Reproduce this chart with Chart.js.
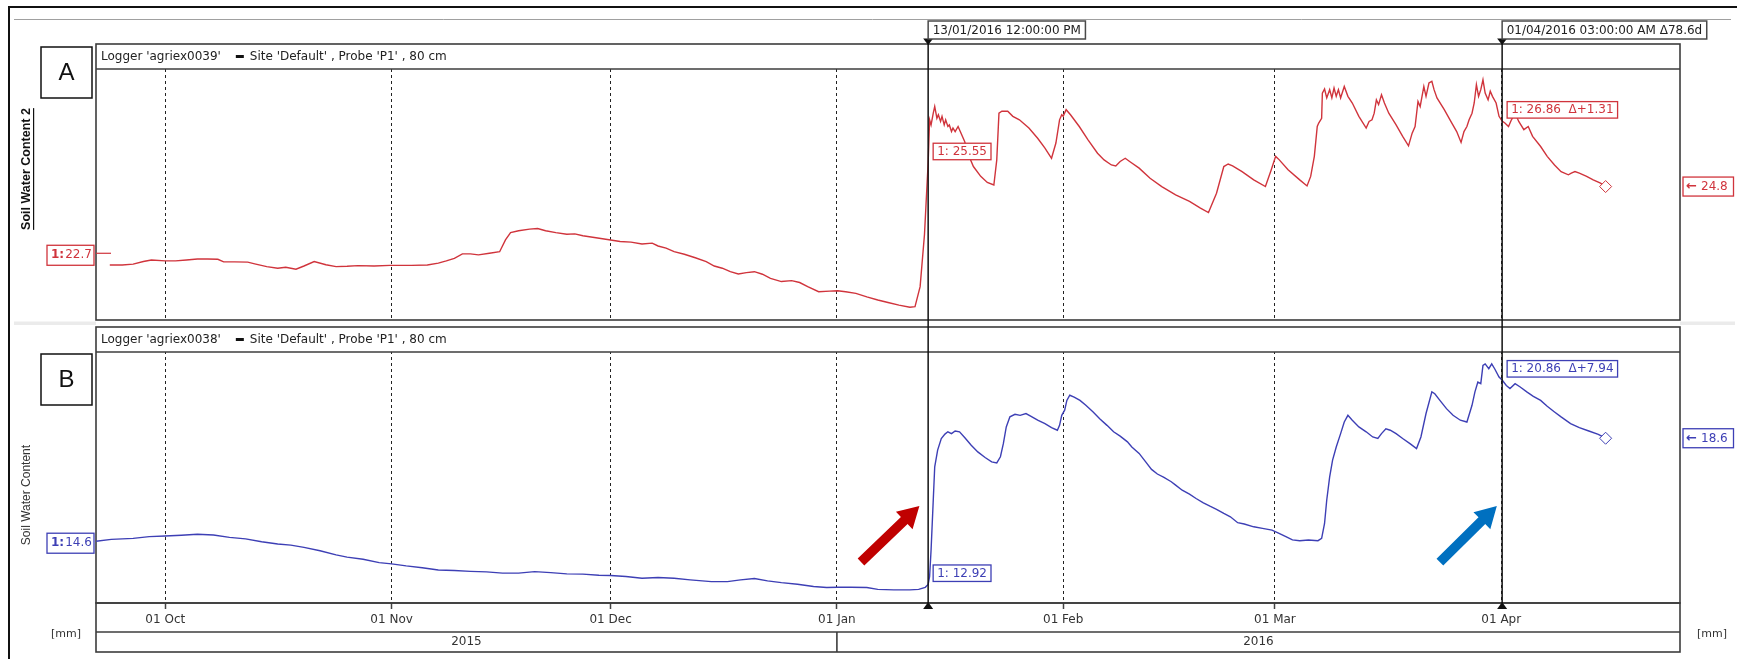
<!DOCTYPE html>
<html>
<head>
<meta charset="utf-8">
<script src="https://cdn.jsdelivr.net/npm/chart.js@4.4.1/dist/chart.umd.min.js"></script>
<style>
  html, body { margin: 0; padding: 0; background: #fff; }
  canvas { display: block; }
</style>
</head>
<body>
<canvas id="swc" width="1737" height="659"></canvas>
<script>
// time axis: days counted from 01 Oct 2015
var monthTicks = [0, 31, 61, 92, 123, 152, 183];
var monthLabels = ['01 Oct', '01 Nov', '01 Dec', '01 Jan', '01 Feb', '01 Mar', '01 Apr'];
var yearLabels = ['2015', '2016'];
var yearStart = 92;

// the two cursors
var cursorDays = [104.5, 183.125];
var cursorText = ['13/01/2016 12:00:00 PM', '01/04/2016 03:00:00 AM'];

var loggers = ['agriex0039', 'agriex0038'];
var siteText = "Site 'Default' , Probe 'P1' , 80 cm";

// agriex0039 - Soil Water Content 2
var swc2Start = 22.7;
var swc2Days = [-7.6, -5.9, -4.4, -3.0, -1.9, 0.0, 1.4, 2.9, 4.4, 5.8, 7.2, 8.0, 9.5, 11.3, 12.4, 13.9, 15.4, 16.5, 17.9, 19.0,
  20.4, 22.0, 23.4, 24.9, 26.4, 28.6, 30.8, 33.7, 35.9, 37.4, 38.5, 39.6, 40.7, 41.8, 42.9, 44.4, 45.8, 46.6, 47.3, 48.4,
  49.9, 51.0, 52.1, 53.5, 55.0, 56.1, 57.2, 59.0, 61.0, 62.3, 63.8, 65.3, 66.7, 67.5, 68.6, 69.7, 71.1, 72.6, 74.1, 75.2,
  76.3, 77.4, 78.5, 79.6, 80.7, 81.8, 82.9, 84.4, 85.8, 86.9, 88.0, 89.5, 91.0, 92.1, 93.2, 94.6, 96.1, 97.6, 99.0, 100.5,
  102.0, 102.7, 103.4, 104.0, 104.5, 104.7, 104.9, 105.2, 105.4, 105.7, 105.9, 106.2, 106.4, 106.7, 106.9, 107.2, 107.4, 107.7, 107.9, 108.2,
  108.6, 108.9, 109.5, 110.1, 110.7, 111.7, 112.6, 113.5, 113.9, 114.2, 114.6, 115.4, 116.1, 117.0, 118.3, 119.5, 120.5, 121.4, 122.0, 122.5,
  122.8, 123.0, 123.4, 124.0, 125.2, 126.4, 127.7, 128.6, 129.6, 130.2, 130.8, 131.5, 132.1, 133.4, 134.9, 136.5, 138.4, 140.3, 141.8, 142.9,
  144.0, 145.0, 145.6, 146.2, 147.5, 149.1, 150.7, 151.5, 152.1, 152.6, 153.8, 155.4, 156.4, 156.9, 157.4, 157.8, 158.0, 158.4, 158.5, 158.8,
  159.1, 159.5, 159.8, 160.1, 160.4, 160.7, 161.0, 161.5, 162.0, 162.6, 163.5, 164.5, 164.9, 165.3, 165.6, 165.9, 166.2, 166.6, 167.0, 167.6,
  168.6, 169.5, 170.3, 170.8, 171.2, 171.6, 171.9, 172.4, 172.7, 173.1, 173.5, 173.8, 174.2, 175.2, 176.1, 176.9, 177.5, 177.9, 178.3, 178.6,
  179.0, 179.3, 179.6, 179.9, 180.2, 180.5, 180.8, 181.2, 181.5, 181.8, 182.3, 182.7, 183.125, 183.5, 184.0, 184.4, 184.9, 185.4, 186.1, 186.7,
  187.3, 188.4, 189.3, 190.3, 191.2, 192.2, 192.6, 193.1, 193.7, 194.7, 195.6, 196.6, 197.3];
var swc2Vals = [22.33, 22.33, 22.36, 22.44, 22.49, 22.46, 22.46, 22.49, 22.52, 22.52, 22.51, 22.43, 22.43, 22.42, 22.36, 22.28, 22.23, 22.26, 22.20, 22.30,
  22.44, 22.34, 22.28, 22.29, 22.31, 22.30, 22.32, 22.32, 22.33, 22.39, 22.46, 22.54, 22.68, 22.68, 22.65, 22.70, 22.75, 23.12, 23.35, 23.41,
  23.46, 23.48, 23.41, 23.35, 23.30, 23.31, 23.25, 23.19, 23.12, 23.07, 23.05, 22.99, 23.02, 22.93, 22.86, 22.75, 22.67, 22.56, 22.44, 22.30,
  22.23, 22.12, 22.05, 22.09, 22.12, 22.04, 21.91, 21.81, 21.84, 21.78, 21.65, 21.49, 21.51, 21.52, 21.49, 21.44, 21.33, 21.23, 21.15, 21.07,
  21.00, 21.02, 21.65, 23.30, 25.55, 26.90, 26.74, 27.11, 27.32, 26.95, 27.06, 26.85, 27.01, 26.74, 26.90, 26.69, 26.74, 26.53, 26.64, 26.53,
  26.69, 26.53, 26.22, 25.75, 25.43, 25.12, 24.93, 24.85, 25.64, 27.11, 27.17, 27.17, 27.01, 26.90, 26.64, 26.32, 26.01, 25.69, 26.17, 26.90,
  27.06, 27.01, 27.22, 27.06, 26.69, 26.27, 25.85, 25.64, 25.48, 25.45, 25.59, 25.69, 25.59, 25.38, 25.06, 24.80, 24.54, 24.33, 24.12, 23.98,
  24.59, 25.43, 25.51, 25.45, 25.27, 25.01, 24.80, 25.33, 25.75, 25.64, 25.33, 25.01, 24.82, 25.12, 25.75, 26.69, 26.80, 26.95, 27.74, 27.87,
  27.59, 27.85, 27.59, 27.90, 27.64, 27.85, 27.59, 27.95, 27.64, 27.43, 27.01, 26.64, 26.85, 26.90, 27.11, 27.53, 27.38, 27.69, 27.43, 27.11,
  26.74, 26.38, 26.08, 26.48, 26.69, 27.48, 27.32, 27.95, 27.64, 28.06, 28.11, 27.85, 27.59, 27.22, 26.85, 26.53, 26.19, 26.53, 26.69, 26.90,
  27.11, 27.43, 28.01, 27.64, 27.85, 28.16, 27.74, 27.53, 27.80, 27.64, 27.43, 27.01, 26.86, 26.80, 26.69, 26.90, 27.11, 26.85, 26.59, 26.69,
  26.38, 26.06, 25.75, 25.48, 25.27, 25.17, 25.22, 25.27, 25.22, 25.12, 25.01, 24.91, 24.80];

// agriex0038 - Soil Water Content
var swcDays = [-9.49, -7.4, -4.4, -2.2, 0.0, 2.2, 4.4, 6.6, 8.8, 11.0, 13.2, 15.4, 17.2, 19.0, 21.2, 23.4, 24.9, 27.1, 29.3, 31.0,
  33.0, 35.2, 37.4, 39.6, 41.8, 44.0, 46.2, 48.4, 50.6, 52.8, 55.0, 57.2, 59.4, 61.0, 63.1, 65.3, 67.5, 69.7, 71.9, 74.8,
  77.0, 78.8, 80.7, 82.5, 84.4, 86.6, 88.8, 90.6, 92.1, 93.9, 96.1, 97.6, 99.8, 102.0, 103.2, 104.1, 104.5, 104.7, 104.9, 105.2,
  105.4, 105.8, 106.3, 106.8, 107.2, 107.7, 108.2, 108.8, 109.5, 110.4, 111.3, 112.3, 113.2, 113.9, 114.4, 114.8, 115.2, 115.7, 116.4, 117.1,
  117.9, 118.6, 119.5, 120.5, 121.4, 122.2, 122.5, 122.8, 123.2, 123.5, 123.9, 124.5, 125.3, 126.1, 127.1, 128.0, 129.0, 129.9, 130.8, 131.8,
  132.4, 133.4, 134.3, 135.1, 135.9, 136.8, 137.8, 138.4, 139.3, 140.3, 141.2, 142.2, 143.1, 144.0, 145.0, 145.9, 146.9, 147.8, 149.1, 150.3,
  151.6, 152.5, 153.5, 154.4, 155.4, 156.6, 157.9, 158.4, 158.8, 159.1, 159.5, 159.9, 160.4, 161.0, 161.5, 162.0, 162.6, 163.5, 164.5, 165.4,
  166.1, 166.6, 167.2, 167.8, 168.6, 169.5, 170.5, 171.4, 172.0, 172.7, 173.5, 173.9, 174.6, 175.5, 176.4, 177.4, 178.3, 179.0, 179.4, 179.8,
  180.2, 180.5, 180.8, 181.3, 181.7, 182.1, 182.7, 183.125, 183.7, 184.2, 184.9, 185.6, 186.5, 187.4, 188.4, 189.3, 190.3, 191.2, 192.5, 193.7,
  195.0, 196.3, 197.3];
var swcVals = [14.60, 14.67, 14.71, 14.78, 14.80, 14.83, 14.87, 14.84, 14.75, 14.69, 14.58, 14.49, 14.45, 14.36, 14.23, 14.07, 13.98, 13.90, 13.77, 13.72,
  13.64, 13.57, 13.48, 13.46, 13.43, 13.41, 13.36, 13.36, 13.42, 13.38, 13.33, 13.32, 13.28, 13.27, 13.23, 13.16, 13.19, 13.16, 13.10, 13.03,
  13.03, 13.10, 13.15, 13.06, 12.99, 12.93, 12.84, 12.80, 12.81, 12.81, 12.80, 12.73, 12.71, 12.71, 12.73, 12.81, 12.92, 13.23, 14.26, 16.20,
  17.49, 18.14, 18.59, 18.76, 18.85, 18.78, 18.88, 18.85, 18.63, 18.33, 18.07, 17.85, 17.68, 17.64, 17.88, 18.39, 19.04, 19.43, 19.53, 19.49,
  19.56, 19.45, 19.30, 19.17, 19.01, 18.91, 19.10, 19.49, 19.69, 20.07, 20.27, 20.20, 20.07, 19.88, 19.62, 19.36, 19.10, 18.85, 18.68, 18.46,
  18.26, 18.01, 17.68, 17.39, 17.21, 17.08, 16.91, 16.78, 16.58, 16.43, 16.26, 16.09, 15.96, 15.84, 15.68, 15.55, 15.32, 15.27, 15.16, 15.10,
  15.03, 14.91, 14.78, 14.65, 14.62, 14.65, 14.62, 14.71, 15.29, 16.20, 17.10, 17.75, 18.26, 18.78, 19.23, 19.49, 19.30, 19.04, 18.85, 18.65,
  18.59, 18.78, 18.97, 18.91, 18.78, 18.59, 18.39, 18.20, 18.65, 19.56, 20.40, 20.33, 20.07, 19.75, 19.49, 19.30, 19.23, 19.88, 20.40, 20.78,
  20.72, 21.43, 21.49, 21.30, 21.49, 21.30, 20.98, 20.86, 20.65, 20.53, 20.72, 20.59, 20.40, 20.23, 20.07, 19.84, 19.62, 19.43, 19.17, 19.01,
  18.88, 18.75, 18.60];

// ---- layout ----
var W = 1737, H = 659;
var left = 96, right = 1680;
var xMin = -9.49, xMax = 207.49;
var panelA = { top: 44, head: 69, bottom: 320, min: 20.6, max: 28.5 };
var panelB = { top: 327, head: 352, bottom: 603, min: 12.2, max: 21.95 };
var axisRow = 632, axisBottom = 652;

var RED = '#d0343c', BLUE = '#3d3fb5';
var FONT = "'DejaVu Sans', sans-serif";

// both y axes span the whole chart area, scaled so each series sits in its own panel
function fullRange(p) {
  var per = (p.max - p.min) / (p.bottom - p.head);
  return { min: p.min - (panelB.bottom - p.bottom) * per, max: p.max + (p.head - panelA.head) * per };
}

function points(days, vals) {
  return days.map(function (d, i) { return { x: d, y: vals[i] }; });
}

function valueAt(days, vals, d) {
  return vals[days.indexOf(d)];
}

function line(c, x1, y1, x2, y2) {
  c.beginPath(); c.moveTo(x1, y1); c.lineTo(x2, y2); c.stroke();
}

function box(c, x, y, w, h, stroke, lw) {
  c.fillStyle = '#fff';
  c.fillRect(x, y, w, h);
  c.strokeStyle = stroke; c.lineWidth = lw || 1.2;
  c.strokeRect(x, y, w, h);
}

function arrow(c, x1, y1, x2, y2, color) {
  var a = Math.atan2(y2 - y1, x2 - x1), len = Math.hypot(x2 - x1, y2 - y1);
  var hl = 21, hw = 12, sw = 4.8;
  c.save();
  c.translate(x1, y1); c.rotate(a);
  c.beginPath();
  c.moveTo(0, -sw); c.lineTo(len - hl, -sw); c.lineTo(len - hl, -hw); c.lineTo(len, 0);
  c.lineTo(len - hl, hw); c.lineTo(len - hl, sw); c.lineTo(0, sw); c.closePath();
  c.fillStyle = color; c.fill();
  c.restore();
}

// annotation arrows pointing at the two cursors, in (day, panel B value)
var arrows = [
  { from: [95.3, 13.79], to: [103.3, 15.97], color: '#c00000' },
  { from: [174.6, 13.79], to: [182.4, 15.97], color: '#0070c0' }
];

var frame = {
  id: 'frame',
  beforeDraw: function (chart) {
    var c = chart.ctx;
    c.save();
    c.fillStyle = '#fff';
    c.fillRect(0, 0, W, H);
    c.strokeStyle = '#111'; c.lineWidth = 2;
    c.beginPath(); c.moveTo(9, H); c.lineTo(9, 7); c.lineTo(W, 7); c.stroke();
    c.strokeStyle = '#a0a0a0'; c.lineWidth = 1;
    line(c, 14, 19.5, W - 6, 19.5);
    c.fillStyle = '#ebebeb';
    c.fillRect(14, panelA.bottom + 1.5, W - 16, 3.5);
    c.restore();
  },
  beforeDatasetsDraw: function (chart) {
    var c = chart.ctx, xs = chart.scales.x;
    c.save();
    // gap and header of the lower panel stay free of grid lines
    c.fillStyle = '#fff';
    c.fillRect(left, panelA.bottom, right - left, panelB.head - panelA.bottom);

    [panelA, panelB].forEach(function (p, i) {
      c.strokeStyle = '#3c3c3c'; c.lineWidth = 1.6;
      c.strokeRect(left, p.top, right - left, p.bottom - p.top);
      line(c, left, p.head, right, p.head);
      // header: logger, series key, site
      var ym = (p.top + p.head) / 2;
      c.font = '12px ' + FONT; c.fillStyle = '#222'; c.textBaseline = 'middle'; c.textAlign = 'left';
      var t1 = "Logger '" + loggers[i] + "'";
      c.fillText(t1, 101, ym);
      var bx = 101 + c.measureText(t1).width + 15;
      c.fillStyle = '#111';
      c.fillRect(bx, ym - 1.5, 8, 3);
      c.fillStyle = '#222';
      c.fillText(siteText, bx + 14, ym);
    });

    // time axis rows
    c.strokeStyle = '#3c3c3c'; c.lineWidth = 1.6;
    c.strokeRect(left, panelB.bottom, right - left, axisBottom - panelB.bottom);
    line(c, left, axisRow, right, axisRow);
    var xj = xs.getPixelForValue(yearStart);
    line(c, xj, axisRow, xj, axisBottom);
    c.font = '12px ' + FONT; c.fillStyle = '#333'; c.textAlign = 'center'; c.textBaseline = 'middle';
    var yy = (axisRow + axisBottom) / 2;
    c.fillText(yearLabels[0], (left + xj) / 2, yy);
    c.fillText(yearLabels[1], (xj + right) / 2, yy);
    c.font = '11px ' + FONT;
    c.fillText('[mm]', 66, 634);
    c.fillText('[mm]', 1712, 634);
    c.restore();
  },
  afterDatasetsDraw: function (chart) {
    var c = chart.ctx, xs = chart.scales.x, ya = chart.scales.yA, yb = chart.scales.yB;
    c.save();

    // cursor lines with markers and time stamps
    var cx = cursorDays.map(function (d) { return xs.getPixelForValue(d); });
    var span = cursorDays[1] - cursorDays[0];
    cx.forEach(function (x, i) {
      c.strokeStyle = '#111'; c.lineWidth = 1.5;
      line(c, x, 39, x, panelB.bottom);
      c.fillStyle = '#111';
      c.beginPath(); c.moveTo(x - 5, 38.5); c.lineTo(x + 5, 38.5); c.lineTo(x, 45); c.closePath(); c.fill();
      c.beginPath(); c.moveTo(x - 5, 609); c.lineTo(x + 5, 609); c.lineTo(x, 602); c.closePath(); c.fill();
      var txt = cursorText[i] + (i === 1 ? ' \u0394' + span.toFixed(1) + 'd' : '');
      c.font = '12px ' + FONT;
      var w = c.measureText(txt).width + 9;
      box(c, x, 21, w, 18, '#4a4a4a', 1.5);
      c.fillStyle = '#222'; c.textAlign = 'left'; c.textBaseline = 'middle';
      c.fillText(txt, x + 4.5, 30.5);
    });

    // value labels at the cursors, start and end of each series
    var series = [
      { days: swc2Days, vals: swc2Vals, scale: ya, color: RED, start: swc2Start },
      { days: swcDays, vals: swcVals, scale: yb, color: BLUE, start: swcVals[0] }
    ];
    series.forEach(function (s, k) {
      var v1 = valueAt(s.days, s.vals, cursorDays[0]);
      var v2 = valueAt(s.days, s.vals, cursorDays[1]);
      var d = v2 - v1;
      var labels = [
        '1: ' + v1.toFixed(2),
        '1: ' + v2.toFixed(2) + '  \u0394' + (d >= 0 ? '+' : '') + d.toFixed(2)
      ];
      c.font = '12px ' + FONT; c.textAlign = 'left'; c.textBaseline = 'middle';
      [v1, v2].forEach(function (v, i) {
        var py = s.scale.getPixelForValue(v);
        var w = c.measureText(labels[i]).width + 8;
        box(c, cx[i] + 5, py - 19.5, w, 16.5, s.color, 1.3);
        c.fillStyle = s.color;
        c.fillText(labels[i], cx[i] + 9, py - 11);
      });

      // left edge value
      var ps = s.scale.getPixelForValue(s.start);
      if (k === 0) {
        c.strokeStyle = s.color; c.lineWidth = 1.2;
        line(c, left, ps, left + 15, ps);
      }
      box(c, 47, ps - 8, 47, 20, s.color, 1.3);
      c.fillStyle = s.color;
      c.font = 'bold 12px ' + FONT;
      c.fillText('1:', 51, ps + 2);
      var bw = c.measureText('1:').width;
      c.font = '12px ' + FONT;
      c.fillText(s.start.toFixed(1), 51 + bw + 1, ps + 2);

      // right edge: last value
      var last = s.vals[s.vals.length - 1];
      var pe = s.scale.getPixelForValue(last);
      box(c, 1683, pe - 9.5, 50.5, 19, s.color, 1.3);
      c.fillStyle = s.color;
      c.font = 'bold 13px ' + FONT;
      c.fillText('\u2190', 1686, pe);
      c.font = '12px ' + FONT;
      c.fillText(last.toFixed(1), 1701, pe + 0.5);
    });

    // axis titles
    c.fillStyle = '#111';
    c.save();
    c.translate(27, 169); c.rotate(-Math.PI / 2);
    c.font = "bold 12.5px 'Liberation Sans', sans-serif"; c.textAlign = 'center'; c.textBaseline = 'middle';
    c.fillText('Soil Water Content 2', 0, 0);
    var tw = c.measureText('Soil Water Content 2').width;
    c.fillRect(-tw / 2, 6, tw, 1.2);
    c.restore();
    c.save();
    c.translate(27, 495); c.rotate(-Math.PI / 2);
    c.fillStyle = '#333';
    c.font = "12px 'Liberation Sans', sans-serif"; c.textAlign = 'center'; c.textBaseline = 'middle';
    c.fillText('Soil Water Content', 0, 0);
    c.restore();

    // panel letters
    [['A', 47], ['B', 354]].forEach(function (p) {
      c.strokeStyle = '#111'; c.lineWidth = 1.5;
      c.fillStyle = '#fff';
      c.fillRect(41, p[1], 51, 51);
      c.strokeRect(41, p[1], 51, 51);
      c.fillStyle = '#111';
      c.font = "24px 'Liberation Sans', sans-serif"; c.textAlign = 'center'; c.textBaseline = 'middle';
      c.fillText(p[0], 66.5, p[1] + 26.5);
    });

    arrows.forEach(function (a) {
      arrow(c, xs.getPixelForValue(a.from[0]), yb.getPixelForValue(a.from[1]),
        xs.getPixelForValue(a.to[0]), yb.getPixelForValue(a.to[1]), a.color);
    });
    c.restore();
  }
};

Chart.defaults.font.family = FONT;
Chart.defaults.font.size = 12;
Chart.defaults.color = '#333';

var rA = fullRange(panelA), rB = fullRange(panelB);

// only the final sample gets the open diamond
function lastMarker(ctx) {
  return ctx.dataIndex === ctx.dataset.data.length - 1 ? 6 : 0;
}

new Chart(document.getElementById('swc'), {
  type: 'line',
  data: {
    datasets: [{
      label: 'Soil Water Content 2',
      data: points(swc2Days, swc2Vals),
      yAxisID: 'yA',
      borderColor: RED,
      borderWidth: 1.4,
      tension: 0,
      pointRadius: lastMarker,
      pointStyle: 'rectRot',
      pointBackgroundColor: '#fff',
      pointBorderColor: RED,
      pointBorderWidth: 1
    }, {
      label: 'Soil Water Content',
      data: points(swcDays, swcVals),
      yAxisID: 'yB',
      borderColor: BLUE,
      borderWidth: 1.4,
      tension: 0,
      pointRadius: lastMarker,
      pointStyle: 'rectRot',
      pointBackgroundColor: '#fff',
      pointBorderColor: BLUE,
      pointBorderWidth: 1
    }]
  },
  options: {
    responsive: false,
    animation: false,
    events: [],
    layout: { padding: { left: left, right: W - right, top: panelA.head, bottom: H - axisBottom } },
    plugins: { legend: { display: false }, tooltip: { enabled: false } },
    scales: {
      x: {
        type: 'linear',
        min: xMin,
        max: xMax,
        afterBuildTicks: function (s) {
          s.ticks = monthTicks.map(function (v) { return { value: v }; });
        },
        afterFit: function (s) { s.height = axisBottom - panelB.bottom; },
        ticks: {
          autoSkip: false,
          maxRotation: 0,
          padding: 4,
          color: '#333',
          font: { size: 12 },
          callback: function (v) {
            var i = monthTicks.indexOf(v);
            return i < 0 ? '' : monthLabels[i];
          }
        },
        grid: { color: '#222', lineWidth: 1, tickLength: 6, tickColor: '#444', tickWidth: 1.5 },
        border: { display: false, dash: [3, 3] }
      },
      yA: { display: false, min: rA.min, max: rA.max },
      yB: { display: false, min: rB.min, max: rB.max }
    }
  },
  plugins: [frame]
});
</script>
</body>
</html>
